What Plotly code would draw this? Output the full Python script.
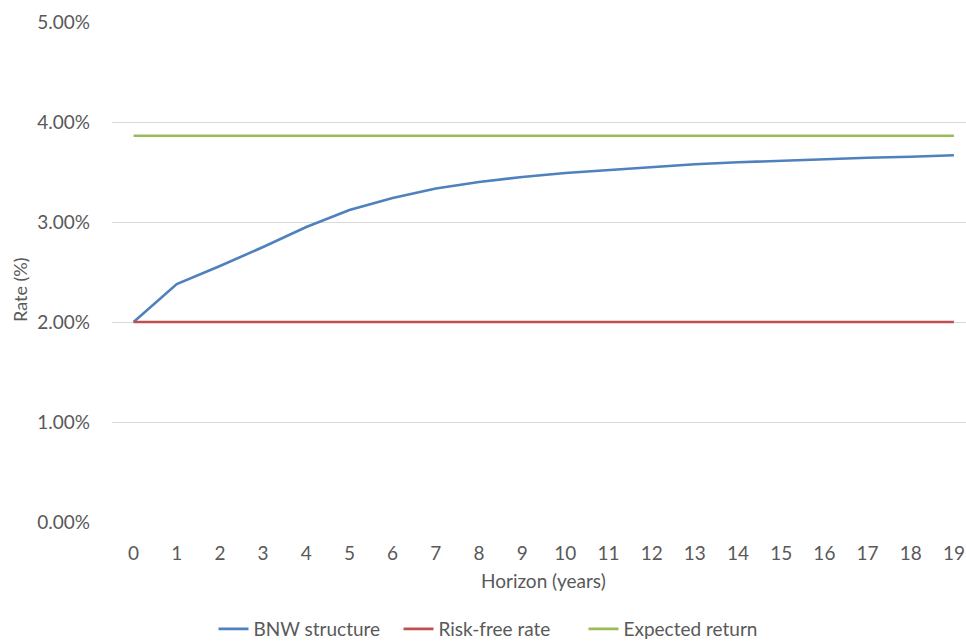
import plotly.graph_objects as go

horizon = list(range(20))
bnw = [2.00, 2.38, 2.56, 2.75, 2.95, 3.12, 3.24, 3.335, 3.40, 3.45, 3.49, 3.52, 3.553, 3.577, 3.597,
       3.613, 3.63, 3.643, 3.653, 3.667]
risk_free = [2.00] * 20
expected = [3.863] * 20

FONT = "Lato"
GREY = "#595959"
FS = 19

fig = go.Figure()
fig.add_trace(go.Scatter(x=horizon, y=bnw, mode="lines", name="BNW structure",
                         line=dict(color="#4F81BD", width=2.6)))
fig.add_trace(go.Scatter(x=horizon, y=risk_free, mode="lines", name="Risk-free rate",
                         line=dict(color="#C0504D", width=2.6)))
fig.add_trace(go.Scatter(x=horizon, y=expected, mode="lines", name="Expected return",
                         line=dict(color="#9BBB59", width=2.6)))

plot_h = 642 - 22 - 120
plot_w = 966 - 112

fig.update_layout(
    width=966, height=642,
    margin=dict(l=112, r=0, t=22, b=120, autoexpand=False),
    plot_bgcolor="white", paper_bgcolor="white",
    font=dict(family=FONT, size=FS, color=GREY),
    showlegend=True,
    legend=dict(orientation="h", xref="container", yref="container",
                x=491 / 966, xanchor="center",
                y=(642 - 629) / 642, yanchor="middle",
                entrywidth=140, entrywidthmode="pixels",
                font=dict(size=FS, color=GREY), tracegroupgap=0),
    xaxis=dict(range=[-0.5, 19.28], tickmode="array", tickvals=horizon,
               ticktext=[str(h) for h in horizon], showgrid=False, zeroline=False,
               showline=False, ticks="", ticklabelstandoff=18,
               tickfont=dict(size=FS, color=GREY)),
    yaxis=dict(range=[0, 5], tickvals=[0, 1, 2, 3, 4, 5],
               ticktext=["0.00%", "1.00%", "2.00%", "3.00%", "4.00%", "5.00%"],
               showgrid=True, gridcolor="#D9D9D9", gridwidth=1, zeroline=False,
               showline=False, ticks="", ticklabelstandoff=21,
               tickfont=dict(size=FS, color=GREY)),
    annotations=[
        dict(text="Horizon (years)", xref="paper", yref="paper",
             x=(543 - 112) / plot_w, y=(522 - 580) / plot_h,
             xanchor="center", yanchor="middle", showarrow=False,
             font=dict(size=FS, color=GREY)),
        dict(text="Rate (%)", textangle=-90, xref="paper", yref="paper",
             x=(20 - 112) / plot_w, y=(522 - 290) / plot_h,
             xanchor="center", yanchor="middle", showarrow=False,
             font=dict(size=FS - 1, color=GREY)),
    ],
)

fig.write_html("out.html")
